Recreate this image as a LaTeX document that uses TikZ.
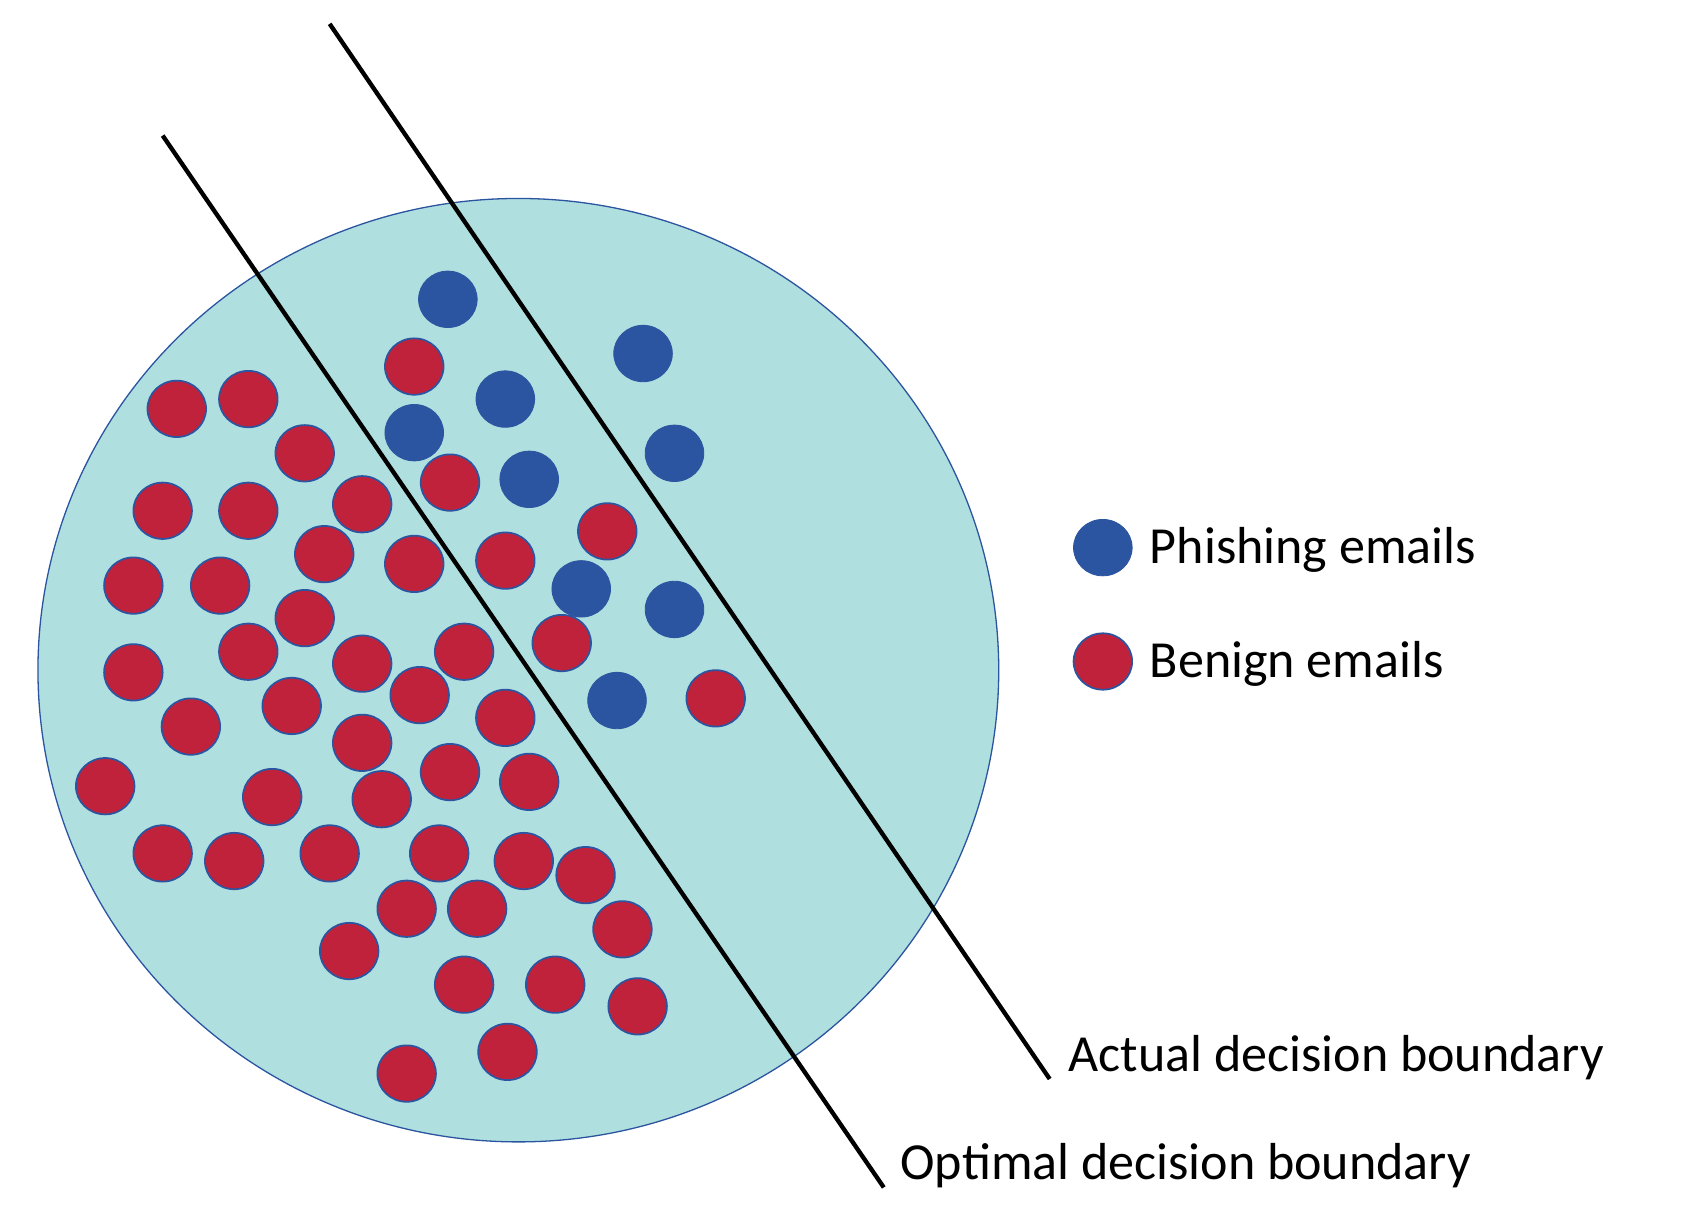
\documentclass[tikz,border=0pt]{standalone}
\usepackage{fontspec}
\setmainfont{Carlito}
\begin{document}
\begin{tikzpicture}[x=0.5pt,y=-0.5pt,
  red dot/.style={fill=dotred,draw=dotblue,line width=0.8pt},
  blue dot/.style={fill=dotblue,draw=dotblue},
  lab/.style={anchor=west,inner sep=0pt,font=\fontsize{24}{28}\selectfont}]
\definecolor{dotred}{HTML}{C0223C}
\definecolor{dotblue}{HTML}{2B55A0}
\definecolor{bg}{HTML}{B0DFDF}
\useasboundingbox (0,0) rectangle (1564,1116);
\draw[fill=bg,draw=dotblue,line width=0.6pt] (478,618) ellipse [x radius=443,y radius=435];
\foreach \x/\y in {382/338,163/377,229/368,281/418,150/471,229/471,334/465,415/445,560/490,299/511,382/520,466/517,123/540,203/540,281/570,518/593,123/620,229/601,334/612,428/601,387/641,660/644,176/670,269/651,466/662,334/685,97/725,251/735,352/737,415/712,488/721,150/787,216/794,304/787,405/787,483/794,540/807,375/838,440/838,574/857,322/877,428/908,512/908,588/928,468/970,375/990}
  \draw[red dot] (\x,\y) ellipse [x radius=27,y radius=26];
\foreach \x/\y in {413/276,593/326,466/368,382/399,622/418,488/442,536/543,622/562,569/646}
  \draw[blue dot] (\x,\y) ellipse [x radius=27,y radius=26];
\coordinate (o1) at (150,125); \coordinate (o2) at (815,1095);
\coordinate (a1) at (304,22); \coordinate (a2) at (968,995);
\draw[line width=2pt] (o1) -- (o2);
\draw[line width=2pt] (a1) -- (a2);
\draw[blue dot] (1017,505) ellipse [x radius=27,y radius=26];
\draw[red dot] (1017,610) ellipse [x radius=27,y radius=26];
\node[lab] (p) at (1060,507) {Phishing emails};
\node[lab] (b) at (1060,612) {Benign emails};
\node[lab] (ad) at (985,975) {Actual decision boundary};
\node[lab] (od) at (830,1075) {Optimal decision boundary};
\end{tikzpicture}
\end{document}
